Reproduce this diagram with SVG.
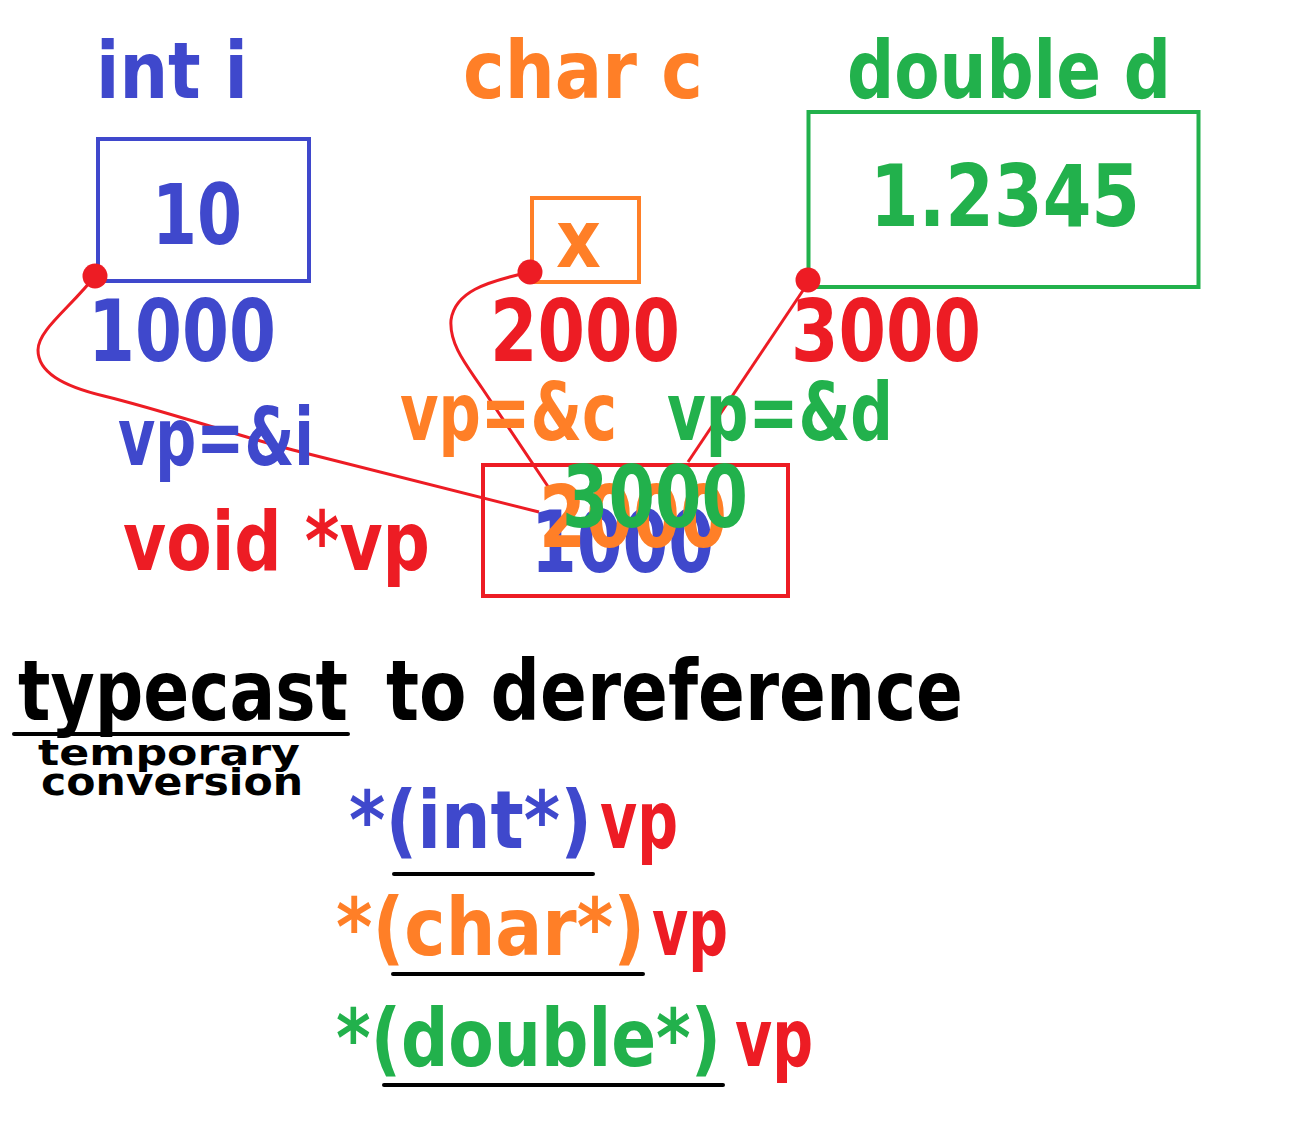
<svg xmlns="http://www.w3.org/2000/svg" width="1296" height="1136" viewBox="0 0 1296 1136">
<style>
text{font-family:"DejaVu Sans","Liberation Sans",sans-serif;font-weight:bold}
.b{fill:#3F48CC}.o{fill:#FF7F27}.g{fill:#22B14C}.r{fill:#ED1C24}.k{fill:#000}
.box{fill:none;stroke-width:4}
.wire{fill:none;stroke:#ED1C24;stroke-width:3}
.ul{stroke:#000;stroke-width:4;stroke-linecap:round}
</style>
<rect width="1296" height="1136" fill="#fff"/>
<g id="var-i">
<text class="b" x="96" y="98" font-size="78" textLength="152" lengthAdjust="spacingAndGlyphs">int i</text>
<rect class="box" x="98" y="139" width="211" height="142" stroke="#3F48CC"/>
<text class="b" x="152" y="244" font-size="84" textLength="90" lengthAdjust="spacingAndGlyphs">10</text>
<text class="b" x="88" y="361" font-size="86" textLength="188" lengthAdjust="spacingAndGlyphs">1000</text>
</g>
<g id="var-c">
<text class="o" x="463" y="98" font-size="80" textLength="240" lengthAdjust="spacingAndGlyphs">char c</text>
<rect class="box" x="532" y="198" width="107" height="84" stroke="#FF7F27"/>
<text class="o" x="556" y="267" font-size="80" textLength="45" lengthAdjust="spacingAndGlyphs">x</text>
<text class="r" x="490" y="361" font-size="86" textLength="190" lengthAdjust="spacingAndGlyphs">2000</text>
</g>
<g id="var-d">
<text class="g" x="847" y="98" font-size="80" textLength="324" lengthAdjust="spacingAndGlyphs">double d</text>
<rect class="box" x="808.5" y="112" width="390" height="175" stroke="#22B14C"/>
<text class="g" x="870" y="226" font-size="86" textLength="270" lengthAdjust="spacingAndGlyphs">1.2345</text>
<text class="r" x="791" y="361" font-size="86" textLength="190" lengthAdjust="spacingAndGlyphs">3000</text>
</g>
<g id="connectors">
<path class="wire" d="M95,276 C70,308 38,330 38,350 C38,372 62,386 104,396 C165,411 225,432 293,450 L539,512"/>
<path class="wire" d="M530,272 C485,282 455,292 451,320 C449,345 468,367 482,388 L549,488"/>
<path class="wire" d="M808,283 L688,462"/>
<circle cx="95" cy="276" r="12.5" fill="#ED1C24"/>
<circle cx="530" cy="272" r="12.5" fill="#ED1C24"/>
<circle cx="808" cy="280" r="12.5" fill="#ED1C24"/>
</g>
<g id="assignments">
<text class="b" x="118" y="465" font-size="80" textLength="196" lengthAdjust="spacingAndGlyphs">vp=&amp;i</text>
<text class="o" x="400" y="440" font-size="80" textLength="217" lengthAdjust="spacingAndGlyphs">vp=&amp;c</text>
<text class="g" x="667" y="440" font-size="80" textLength="226" lengthAdjust="spacingAndGlyphs">vp=&amp;d</text>
</g>
<g id="var-vp">
<text class="r" x="123" y="570" font-size="82" textLength="307" lengthAdjust="spacingAndGlyphs">void *vp</text>
<rect class="box" x="483" y="465" width="305" height="131" stroke="#ED1C24"/>
<text class="b" x="531" y="572" font-size="86" textLength="183" lengthAdjust="spacingAndGlyphs">1000</text>
<text class="o" x="539" y="547" font-size="86" textLength="188" lengthAdjust="spacingAndGlyphs">2000</text>
<text class="g" x="562" y="527" font-size="86" textLength="186" lengthAdjust="spacingAndGlyphs">3000</text>
</g>
<g id="typecast">
<text class="k" x="18" y="720" font-size="83" textLength="330" lengthAdjust="spacingAndGlyphs">typecast</text>
<text class="k" x="386" y="720" font-size="83" textLength="577" lengthAdjust="spacingAndGlyphs">to dereference</text>
<line class="ul" x1="14" y1="734" x2="348" y2="734"/>
<text class="k" x="38" y="765" font-size="36" textLength="262" lengthAdjust="spacingAndGlyphs">temporary</text>
<text class="k" x="41" y="795" font-size="38" textLength="262" lengthAdjust="spacingAndGlyphs">conversion</text>
</g>
<g id="casts">
<text class="b" x="349" y="848" font-size="80" textLength="243" lengthAdjust="spacingAndGlyphs">*(int*)</text>
<text class="r" x="600" y="848" font-size="80" textLength="78" lengthAdjust="spacingAndGlyphs">vp</text>
<line class="ul" x1="394" y1="874" x2="593" y2="874"/>
<text class="o" x="336" y="955" font-size="80" textLength="309" lengthAdjust="spacingAndGlyphs">*(char*)</text>
<text class="r" x="652" y="955" font-size="80" textLength="76" lengthAdjust="spacingAndGlyphs">vp</text>
<line class="ul" x1="393" y1="974" x2="643" y2="974"/>
<text class="g" x="336" y="1066" font-size="80" textLength="385" lengthAdjust="spacingAndGlyphs">*(double*)</text>
<text class="r" x="735" y="1066" font-size="80" textLength="78" lengthAdjust="spacingAndGlyphs">vp</text>
<line class="ul" x1="384" y1="1085" x2="723" y2="1085"/>
</g>
</svg>
